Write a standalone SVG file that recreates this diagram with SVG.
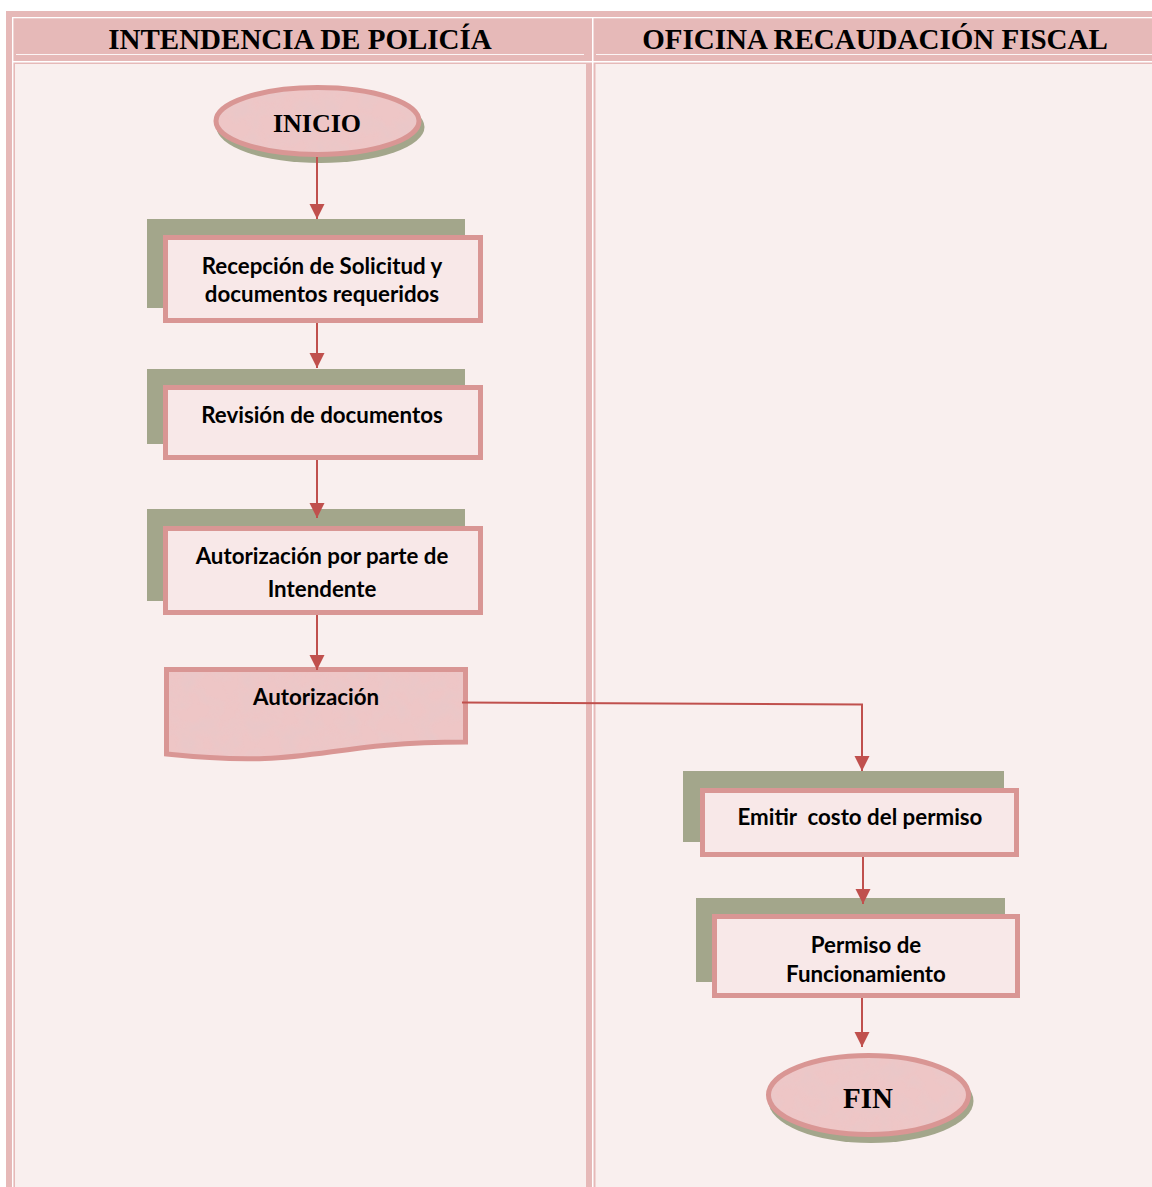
<svg xmlns="http://www.w3.org/2000/svg" width="1152" height="1187" viewBox="0 0 1152 1187">
  <style>
    .hdr { font-family: "Liberation Serif", "Times New Roman", serif; font-weight: bold; font-size: 29px; text-anchor: middle; fill: #000; }
    .term { font-family: "Liberation Serif", "Times New Roman", serif; font-weight: bold; text-anchor: middle; fill: #000; }
    .lbl { font-family: Lato, "Liberation Sans", sans-serif; font-weight: bold; font-size: 22.3px; text-anchor: middle; fill: #000; }
    .shadow { fill: #a3a68b; }
    .box { fill: #f8e8e8; stroke: #d99694; stroke-width: 5; }
    .rim { fill: none; stroke: #d99694; stroke-width: 5; }
    .paper { fill: #eec6c6; }
    .conn { fill: none; stroke: #c0504d; stroke-width: 2; }
  </style>
  <defs>
    <!-- mottled tissue-paper fill for terminals and the document shape -->
    <filter id="mottle" x="0" y="0" width="100%" height="100%">
      <feTurbulence type="fractalNoise" baseFrequency="0.05" numOctaves="3" seed="7" result="noise"/>
      <feColorMatrix in="noise" type="matrix" values="0 0 0 0 0.8  0 0 0 0 0.58  0 0 0 0 0.59  1.6 0 0 0 -0.62" result="spots"/>
      <feComposite in="spots" in2="SourceGraphic" operator="in" result="clipped"/>
      <feMerge>
        <feMergeNode in="SourceGraphic"/>
        <feMergeNode in="clipped"/>
      </feMerge>
    </filter>
    <marker id="arrow" markerUnits="userSpaceOnUse" markerWidth="16" markerHeight="16" refX="15" refY="7.5" orient="auto">
      <path d="M0,0 L15,7.5 L0,15 Z" fill="#c0504d"/>
    </marker>
  </defs>

  <!-- swimlane table -->
  <g id="table">
    <rect x="0" y="0" width="1152" height="1187" fill="#ffffff"/>
    <rect x="6" y="11" width="1146" height="1176" fill="#e6b9b8"/>
    <rect x="12" y="17" width="1140" height="1.3" fill="#ffffff"/>
    <rect x="12" y="17" width="1.4" height="1170" fill="#ffffff"/>
    <rect x="592" y="17" width="1.5" height="1170" fill="#ffffff"/>
    <rect x="12" y="61" width="1140" height="1.5" fill="#ffffff"/>
    <rect x="16" y="54" width="568" height="1" fill="#ffffff" opacity="0.85"/>
    <rect x="596" y="54" width="556" height="1" fill="#ffffff" opacity="0.85"/>
    <rect x="15" y="64" width="571" height="1123" fill="#f9efee"/>
    <rect x="595.5" y="64" width="556.5" height="1123" fill="#f9efee"/>
    <text class="hdr" x="300" y="48.5">INTENDENCIA DE POLICÍA</text>
    <text class="hdr" x="875" y="48.5">OFICINA RECAUDACIÓN FISCAL</text>
  </g>

  <!-- nodes -->
  <g id="inicio">
    <ellipse class="shadow" cx="320.5" cy="127" rx="104" ry="36"/>
    <ellipse class="paper" cx="317.5" cy="121" rx="101.5" ry="33.5" filter="url(#mottle)"/>
    <ellipse class="rim" cx="317.5" cy="121" rx="101.5" ry="33.5"/>
    <text class="term" x="317" y="132" font-size="26">INICIO</text>
  </g>

  <g id="recepcion">
    <rect class="shadow" x="147" y="219" width="318" height="89"/>
    <rect class="box" x="165.5" y="237.5" width="315" height="83"/>
    <text class="lbl" x="322" y="274">Recepción de Solicitud y</text>
    <text class="lbl" x="322" y="302">documentos requeridos</text>
  </g>

  <g id="revision">
    <rect class="shadow" x="147" y="369" width="318" height="75"/>
    <rect class="box" x="165.5" y="387.5" width="315" height="70"/>
    <text class="lbl" x="322" y="423">Revisión de documentos</text>
  </g>

  <g id="autorizacion-intendente">
    <rect class="shadow" x="147" y="509" width="318" height="92"/>
    <rect class="box" x="165.5" y="528.5" width="315" height="84"/>
    <text class="lbl" x="322" y="564">Autorización por parte de</text>
    <text class="lbl" x="322" y="597">Intendente</text>
  </g>

  <g id="autorizacion-doc">
    <path class="paper" d="M166.5,669.5 H465.5 V742 C316,742 316,769.7 166.5,754 Z" filter="url(#mottle)"/>
    <path class="rim" d="M166.5,669.5 H465.5 V742 C316,742 316,769.7 166.5,754 Z"/>
    <text class="lbl" x="316" y="705">Autorización</text>
  </g>

  <g id="emitir">
    <rect class="shadow" x="683" y="771" width="321" height="71"/>
    <rect class="box" x="702.5" y="790.5" width="314" height="64"/>
    <text class="lbl" x="860" y="825" xml:space="preserve">Emitir  costo del permiso</text>
  </g>

  <g id="permiso">
    <rect class="shadow" x="696" y="898" width="309" height="84"/>
    <rect class="box" x="714.5" y="916.5" width="303" height="79"/>
    <text class="lbl" x="866" y="953">Permiso de</text>
    <text class="lbl" x="866" y="982">Funcionamiento</text>
  </g>

  <g id="fin">
    <ellipse class="shadow" cx="871" cy="1101" rx="102.5" ry="42"/>
    <ellipse class="paper" cx="868.5" cy="1095" rx="100" ry="39.5" filter="url(#mottle)"/>
    <ellipse class="rim" cx="868.5" cy="1095" rx="100" ry="39.5"/>
    <text class="term" x="868" y="1108" font-size="29">FIN</text>
  </g>

  <!-- connectors -->
  <g id="connectors">
    <path class="conn" d="M317,157 V219" marker-end="url(#arrow)"/>
    <path class="conn" d="M317,323 V368" marker-end="url(#arrow)"/>
    <path class="conn" d="M317,460 V518" marker-end="url(#arrow)"/>
    <path class="conn" d="M317,615 V670" marker-end="url(#arrow)"/>
    <path class="conn" d="M462,702.5 L862,704.5 V771" marker-end="url(#arrow)"/>
    <path class="conn" d="M863,857 V904" marker-end="url(#arrow)"/>
    <path class="conn" d="M862,998 V1047" marker-end="url(#arrow)"/>
  </g>
</svg>
